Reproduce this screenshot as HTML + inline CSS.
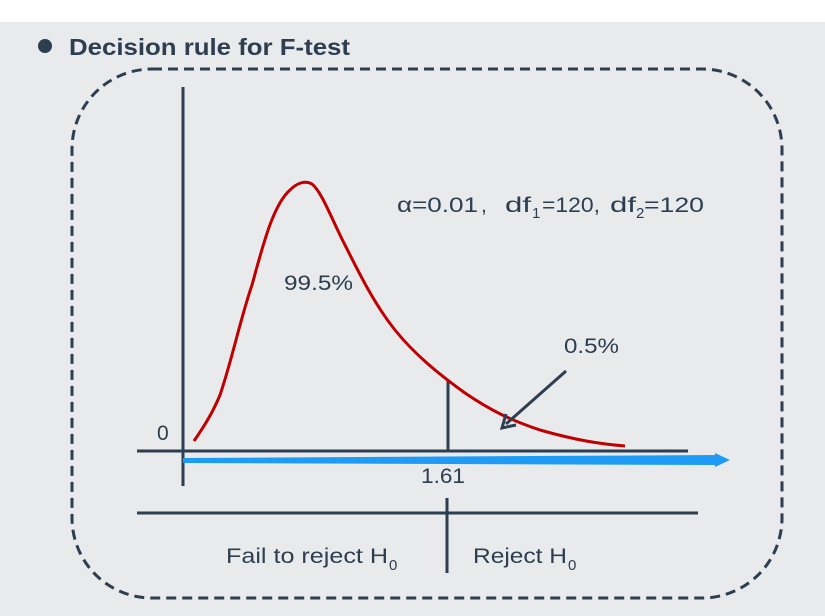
<!DOCTYPE html>
<html><head><meta charset="utf-8"><style>
body{margin:0;width:825px;height:616px;overflow:hidden;background:#e9eaec;font-family:"Liberation Sans","Noto Sans CJK SC",sans-serif;}
</style></head><body>
<svg width="825" height="616" viewBox="0 0 825 616" xmlns="http://www.w3.org/2000/svg" style="position:absolute;left:0;top:0">
<rect x="0" y="0" width="825" height="22" fill="#ffffff"/>
<circle cx="45" cy="46" r="7" fill="#2c3e50"/>
<text x="69" y="55" font-size="23" font-weight="bold" fill="#2c3e50" textLength="281" lengthAdjust="spacingAndGlyphs">Decision rule for F-test</text>
<rect x="72" y="69" width="710" height="529" rx="80" ry="80" fill="none" stroke="#2c3e50" stroke-width="3" stroke-dasharray="10,6"/>
<line x1="183" y1="87" x2="183" y2="486" stroke="#2c3e50" stroke-width="3"/>
<line x1="137" y1="451" x2="688" y2="451" stroke="#2c3e50" stroke-width="3"/>
<polygon points="183,458 715,455 715,453 730,460 715,467 715,465 183,463" fill="#1e9cf5"/>
<line x1="448" y1="381" x2="448" y2="451" stroke="#2c3e50" stroke-width="3"/>
<line x1="137" y1="513" x2="698" y2="513" stroke="#2c3e50" stroke-width="3"/>
<line x1="447" y1="498" x2="447" y2="573" stroke="#2c3e50" stroke-width="3"/>
<path d="M194,441 C205,425 213,412 220,395 C232,360 240,320 252,285 C263,245 273,205 290,190 C297,183 305,180 312,184 C322,192 332,220 345,245 C360,275 375,305 395,330 C415,355 440,375 465,393 C490,410 510,420 540,430 C575,440 600,444 625,446" fill="none" stroke="#c00000" stroke-width="3"/>
<line x1="566" y1="371" x2="506" y2="424" stroke="#2c3e50" stroke-width="3"/>
<polyline points="506,414 502,428 516,425" fill="none" stroke="#2c3e50" stroke-width="3"/>
<g fill="#2c3e50" font-size="21">
<text x="157" y="440">0</text>
<text x="421" y="483" textLength="44" lengthAdjust="spacingAndGlyphs">1.61</text>
<text x="284" y="290" textLength="69" lengthAdjust="spacingAndGlyphs">99.5%</text>
<text x="564" y="353" textLength="55" lengthAdjust="spacingAndGlyphs">0.5%</text>
<text x="397" y="212" textLength="81" lengthAdjust="spacingAndGlyphs">α=0.01</text>
<text x="481" y="212">,</text>
<text x="505" y="212" textLength="26" lengthAdjust="spacingAndGlyphs">df</text>
<text x="532" y="218" font-size="15">1</text>
<text x="542" y="212" textLength="58" lengthAdjust="spacingAndGlyphs">=120,</text>
<text x="610" y="212" textLength="26" lengthAdjust="spacingAndGlyphs">df</text>
<text x="636" y="218" font-size="15">2</text>
<text x="644" y="212" textLength="60" lengthAdjust="spacingAndGlyphs">=120</text>
<text x="226" y="563" textLength="162" lengthAdjust="spacingAndGlyphs">Fail to reject H</text>
<text x="389" y="570" font-size="15">0</text>
<text x="473" y="563" textLength="94" lengthAdjust="spacingAndGlyphs">Reject H</text>
<text x="568" y="570" font-size="15">0</text>
</g>
</svg>
</body></html>
